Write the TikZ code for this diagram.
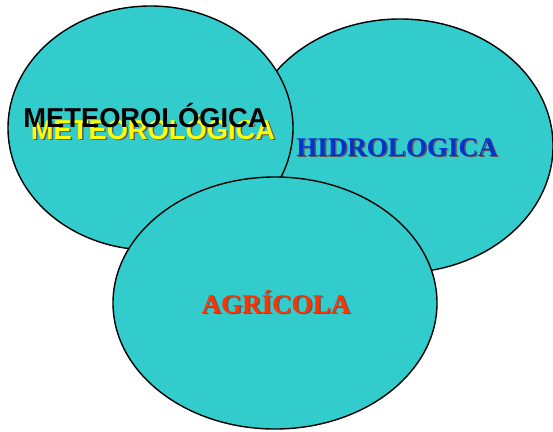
\documentclass[tikz,border=0pt]{standalone}
\usepackage{fontspec}
\setmainfont{Liberation Serif}
\newfontfamily\arialfont{Liberation Sans}
\usetikzlibrary{shapes.geometric, positioning}
\definecolor{zoneCyan}{HTML}{33CCCC}
\definecolor{hidroBlue}{HTML}{0033CC}
\definecolor{agroRed}{HTML}{FF3300}
\definecolor{meteoYellow}{HTML}{FFFF00}
\definecolor{shadowGray}{HTML}{333333}
\tikzset{
  zone/.style={
    ellipse,
    draw=black,
    line width=1.4pt,
    fill=zoneCyan,
    inner sep=0pt
  },
  serifLabel/.style={
    anchor=base,
    inner sep=0pt,
    font=\bfseries\fontsize{27}{30}\selectfont
  },
  sansLabel/.style={
    anchor=base,
    inner sep=0pt,
    font=\arialfont\bfseries\fontsize{27.3}{30}\selectfont
  },
  labelShadow/.style={text=shadowGray!80}
}

\begin{document}
\begin{tikzpicture}[x=1pt,y=-1pt]
  \useasboundingbox (0,0) rectangle (553,431);

  % the three drought zones
  \node[zone, minimum width=306pt, minimum height=254pt] (hidro) at (400,146) {};
  \node[zone, minimum width=285pt, minimum height=244pt] (meteo) at (150.5,128) {};
  \node[zone, minimum width=324pt, minimum height=252pt] (agro) at (275,303) {};

  % labels
  \node[sansLabel, labelShadow] (meteoShadow) at (154.5,140.5) {METEOROLÓGICA};
  \node[sansLabel, text=meteoYellow] (meteoBack) at (153,139) {METEOROLÓGICA};
  \node[sansLabel, text=black] (meteoText) at (145.5,127) {METEOROLÓGICA};

  \node[serifLabel, labelShadow] (hidroShadow) at (398.5,157.5) {HIDROLOGICA};
  \node[serifLabel, text=hidroBlue] (hidroText) at (397,156) {HIDROLOGICA};

  \node[serifLabel, labelShadow] (agroShadow) at (277.5,314.5) {AGRÍCOLA};
  \node[serifLabel, text=agroRed] (agroText) at (276,313) {AGRÍCOLA};
\end{tikzpicture}
\end{document}
